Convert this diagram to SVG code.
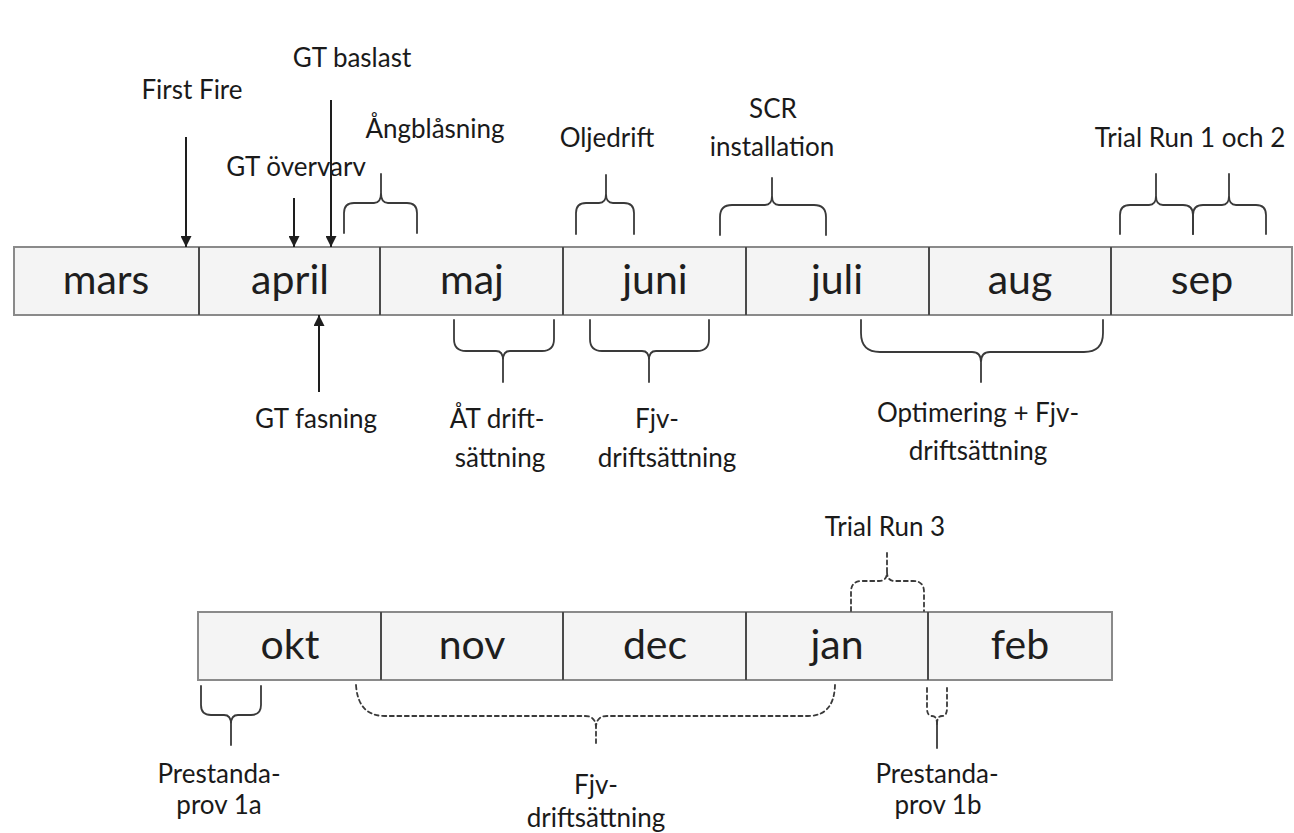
<svg xmlns="http://www.w3.org/2000/svg" width="1294" height="833" viewBox="0 0 1294 833">
<style>
.cell{fill:#f4f4f4;stroke:#8a8a8a;stroke-width:2}
.div{stroke:#4a4a4a;stroke-width:2}
.month{font-family:Lato,"Open Sans",sans-serif;font-size:41px;fill:#1e1e1e;text-anchor:middle}
.lbl{font-family:Lato,"Open Sans",sans-serif;font-size:26px;fill:#1a1a1a;text-anchor:middle}
.arrow{stroke:#1e1e1e;stroke-width:2;fill:none;marker-end:url(#ah)}
.brace{stroke:#3a3a3a;stroke-width:1.8;fill:none;stroke-linecap:round;stroke-linejoin:round}
.dash{stroke-dasharray:4 3.5}
</style>
<defs>
<marker id="ah" viewBox="0 0 12 12" refX="12" refY="6" markerWidth="12" markerHeight="11" markerUnits="userSpaceOnUse" orient="auto">
<path d="M0,0 L12,6 L0,12 z" fill="#1e1e1e"/>
</marker>
</defs>
<rect width="1294" height="833" fill="#ffffff"/>

<g id="row1">
<g id="mars"><rect class="cell" x="14" y="247" width="185" height="68"/><text class="month" x="106" y="294">mars</text></g>
<g id="april"><rect class="cell" x="199" y="247" width="181" height="68"/><text class="month" x="290" y="294">april</text></g>
<g id="maj"><rect class="cell" x="380" y="247" width="183" height="68"/><text class="month" x="472" y="294">maj</text></g>
<g id="juni"><rect class="cell" x="563" y="247" width="183" height="68"/><text class="month" x="655" y="294">juni</text></g>
<g id="juli"><rect class="cell" x="746" y="247" width="183" height="68"/><text class="month" x="837" y="294">juli</text></g>
<g id="aug"><rect class="cell" x="929" y="247" width="182" height="68"/><text class="month" x="1020" y="294">aug</text></g>
<g id="sep"><rect class="cell" x="1111" y="247" width="181" height="68"/><text class="month" x="1202" y="294">sep</text></g>
<g id="row1-dividers"><line class="div" x1="199" y1="247" x2="199" y2="315"/><line class="div" x1="380" y1="247" x2="380" y2="315"/><line class="div" x1="563" y1="247" x2="563" y2="315"/><line class="div" x1="746" y1="247" x2="746" y2="315"/><line class="div" x1="929" y1="247" x2="929" y2="315"/><line class="div" x1="1111" y1="247" x2="1111" y2="315"/></g>
</g>

<g id="row2">
<g id="okt"><rect class="cell" x="198" y="612" width="183" height="68"/><text class="month" x="290" y="659">okt</text></g>
<g id="nov"><rect class="cell" x="381" y="612" width="182" height="68"/><text class="month" x="472" y="659">nov</text></g>
<g id="dec"><rect class="cell" x="563" y="612" width="183" height="68"/><text class="month" x="655" y="659">dec</text></g>
<g id="jan"><rect class="cell" x="746" y="612" width="182" height="68"/><text class="month" x="837" y="659">jan</text></g>
<g id="feb"><rect class="cell" x="928" y="612" width="184" height="68"/><text class="month" x="1020" y="659">feb</text></g>
<g id="row2-dividers"><line class="div" x1="381" y1="612" x2="381" y2="680"/><line class="div" x1="563" y1="612" x2="563" y2="680"/><line class="div" x1="746" y1="612" x2="746" y2="680"/><line class="div" x1="928" y1="612" x2="928" y2="680"/></g>
</g>

<g id="labels">
<g id="lbl-gt-baslast"><text class="lbl" x="352" y="67">GT baslast</text></g>
<g id="lbl-first-fire"><text class="lbl" x="192" y="99">First Fire</text></g>
<g id="lbl-angblasning"><text class="lbl" x="435" y="138">Ångblåsning</text></g>
<g id="lbl-gt-overvarv"><text class="lbl" x="296" y="176">GT övervarv</text></g>
<g id="lbl-oljedrift"><text class="lbl" x="607" y="147">Oljedrift</text></g>
<g id="lbl-scr"><text class="lbl" x="773" y="118">SCR</text><text class="lbl" x="772" y="156">installation</text></g>
<g id="lbl-trial12"><text class="lbl" x="1190" y="147">Trial Run 1 och 2</text></g>
<g id="lbl-gt-fasning"><text class="lbl" x="316" y="428">GT fasning</text></g>
<g id="lbl-at"><text class="lbl" x="497" y="428">ÅT drift-</text><text class="lbl" x="500" y="467">sättning</text></g>
<g id="lbl-fjv1"><text class="lbl" x="657" y="428">Fjv-</text><text class="lbl" x="667" y="467">driftsättning</text></g>
<g id="lbl-optimering"><text class="lbl" x="978" y="422">Optimering + Fjv-</text><text class="lbl" x="978" y="460">driftsättning</text></g>
<g id="lbl-trial3"><text class="lbl" x="885" y="536">Trial Run 3</text></g>
<g id="lbl-prov1a"><text class="lbl" x="219" y="783">Prestanda-</text><text class="lbl" x="219" y="814">prov 1a</text></g>
<g id="lbl-fjv2"><text class="lbl" x="596" y="794">Fjv-</text><text class="lbl" x="596" y="827">driftsättning</text></g>
<g id="lbl-prov1b"><text class="lbl" x="937" y="783">Prestanda-</text><text class="lbl" x="938" y="814">prov 1b</text></g>
</g>

<g id="connectors">
<line class="arrow" x1="186" y1="137" x2="186" y2="247"/>
<line class="arrow" x1="294" y1="198" x2="294" y2="247"/>
<line class="arrow" x1="331" y1="100" x2="331" y2="247"/>
<line class="arrow" x1="319" y1="392" x2="319" y2="315"/>

<path class="brace" d="M344,233 L344,213 Q344,203 354,203 L374,203 Q381,203 381,193 L381,174 M381,193 Q381,203 388,203 L407,203 Q417,203 417,213 L417,233"/>
<path class="brace" d="M576,234 L576,213 Q576,203 586,203 L599,203 Q606,203 606,194 L606,175 M606,194 Q606,203 613,203 L624,203 Q634,203 634,213 L634,234"/>
<path class="brace" d="M720,235 L720,217 Q720,205 732,205 L765,205 Q772,205 772,196 L772,178 M772,196 Q772,205 779,205 L814,205 Q826,205 826,217 L826,235"/>
<path class="brace" d="M1120,234 L1120,215 Q1120,205 1130,205 L1149,205 Q1156,205 1156,196 L1156,174 M1156,196 Q1156,205 1163,205 L1183,205 Q1193,205 1193,215 L1193,234"/>
<path class="brace" d="M1193,234 L1193,215 Q1193,205 1203,205 L1222,205 Q1229,205 1229,196 L1229,174 M1229,196 Q1229,205 1236,205 L1256,205 Q1266,205 1266,215 L1266,234"/>

<path class="brace" d="M454,320 L454,339 Q454,351 466,351 L496,351 Q503,351 503,360 L503,382 M503,360 Q503,351 510,351 L542,351 Q554,351 554,339 L554,320"/>
<path class="brace" d="M590,320 L590,339 Q590,351 602,351 L642,351 Q649,351 649,360 L649,382 M649,360 Q649,351 656,351 L697,351 Q709,351 709,339 L709,320"/>
<path class="brace" d="M861,320 L861,333 Q861,352 880,352 L972,352 Q981,352 981,362 L981,382 M981,362 Q981,352 990,352 L1084,352 Q1103,352 1103,333 L1103,320"/>

<path class="brace dash" d="M851,611 L851,592 Q851,581 862,581 L879,581 Q887,581 887,572 L887,553 M887,572 Q887,581 895,581 L913,581 Q924,581 924,592 L924,611"/>
<path class="brace" d="M201,686 L201,705 Q201,715 211,715 L224,715 Q231,715 231,724 L231,745 M231,724 Q231,715 238,715 L251,715 Q261,715 261,705 L261,686"/>
<path class="brace dash" d="M356,685 Q358,716 385,716 L585,716 Q596,716 596,728 L596,743 M596,728 Q596,716 607,716 L808,716 Q834,716 835,685"/>
<path class="brace dash" d="M927,688 L927,708 Q927,716 932,716 Q937,716 937,724 M937,724 Q937,716 942,716 Q947,716 947,708 L947,688"/>
<path class="brace" d="M937,724 L937,748"/>
</g>
</svg>
